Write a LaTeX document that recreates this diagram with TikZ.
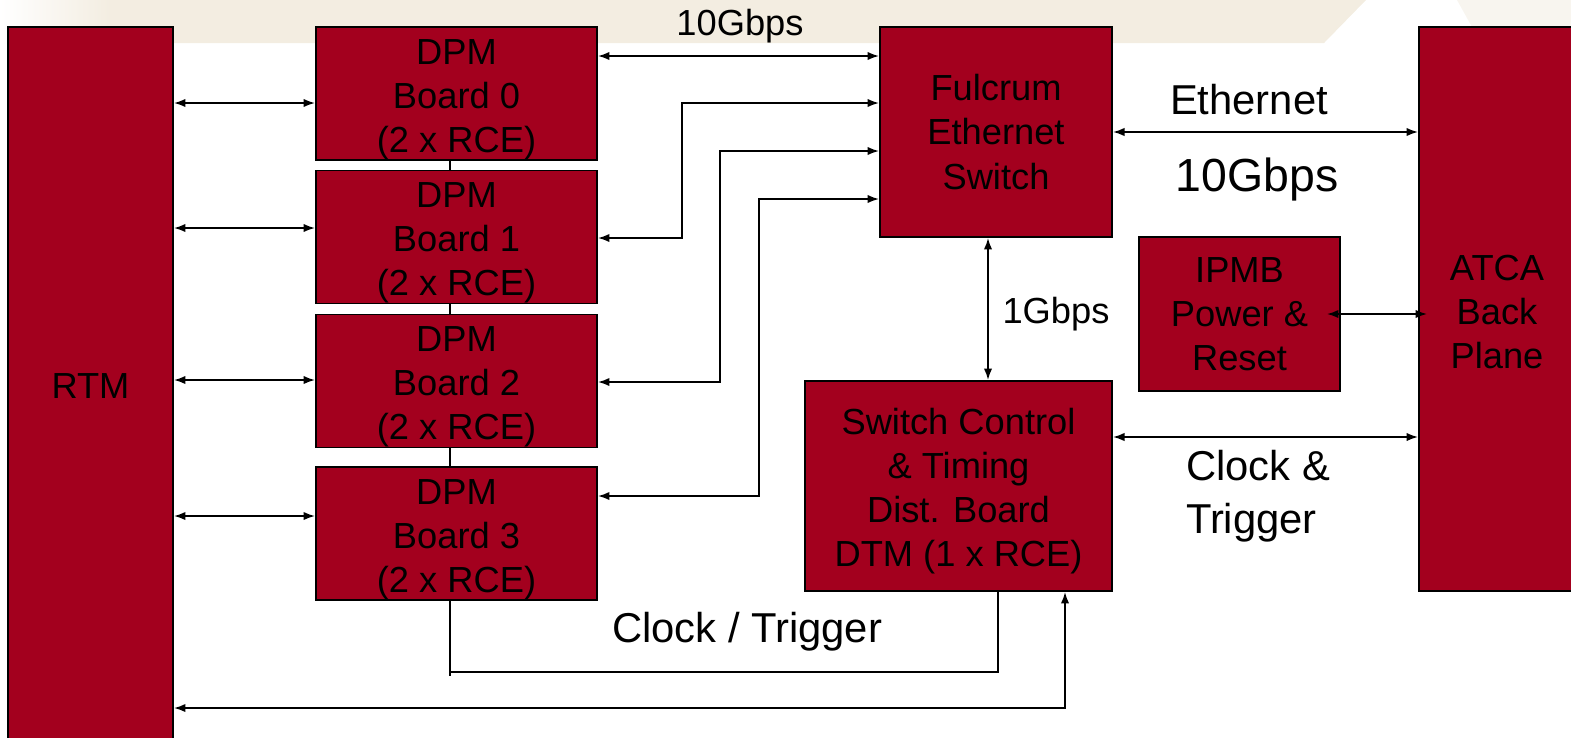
\documentclass[tikz,border=0pt]{standalone}
\usepackage{fontspec}
\setmainfont{Liberation Sans}
\usetikzlibrary{positioning, calc, arrows.meta}
\definecolor{Board}{HTML}{A3001E}
\definecolor{Band}{HTML}{F3EDE1}
\definecolor{BandLight}{HTML}{F8F5EF}
\newcommand{\topgap}[1]{\rule{0pt}{#1}}
\tikzset{
    board/.style={rectangle, draw=black, line width=0.8pt, fill=Board, text=black, align=center, inner sep=0pt, font=\fontsize{17.2}{20.9}\selectfont},
    link/.style={>={Latex[length=5.5pt,width=4pt]}, <->, line width=0.9pt},
    wire/.style={line width=0.9pt},
    lbl/.style={font=\fontsize{19.8}{25.1}\selectfont, align=left},
    smalllbl/.style={font=\fontsize{17.2}{20.9}\selectfont},
}

\begin{document}
\begin{tikzpicture}[x=0.0166667cm, y=-0.0166667cm]
    \useasboundingbox (0,0) rectangle (1571,737);
    % Fondo
    \fill[Band] (0,0) -- (1366,0) -- (1324,43) -- (0,43) -- cycle;
    \shade[left color=white, right color=Band] (0,0) rectangle (110,43);
    \fill[BandLight] (1457,0) -- (1472,27) -- (1571,27) -- (1571,0) -- cycle;

    % Schede
    \node[board, minimum width=2.75cm, minimum height=11.967cm] (rtm) at (90.5,386) {RTM};
    \node[board, minimum width=4.683cm, minimum height=2.217cm] (dpm0) at (456.5,93.5) {\topgap{17.5pt}DPM\\Board 0\\(2 x RCE)};
    \node[board, minimum width=4.683cm, minimum height=2.217cm] (dpm1) at (456.5,237) {\topgap{17.5pt}DPM\\Board 1\\(2 x RCE)};
    \node[board, minimum width=4.683cm, minimum height=2.217cm] (dpm2) at (456.5,381) {\topgap{17.5pt}DPM\\Board 2\\(2 x RCE)};
    \node[board, minimum width=4.683cm, minimum height=2.217cm] (dpm3) at (456.5,533.5) {\topgap{17.5pt}DPM\\Board 3\\(2 x RCE)};
    \node[board, minimum width=3.867cm, minimum height=3.5cm] (fulcrum) at (996,132) {Fulcrum\\Ethernet\\Switch};
    \node[board, minimum width=5.117cm, minimum height=3.5cm] (sctd) at (958.5,486) {\topgap{17pt}Switch Control\\\& Timing\\Dist. Board\\DTM (1 x RCE)};
    \node[board, minimum width=3.35cm, minimum height=2.567cm] (ipmb) at (1239.5,314) {IPMB\\Power \&\\Reset};
    \node[board, minimum width=2.6cm, minimum height=9.4cm] (atca) at (1497,309) {\topgap{15pt}ATCA\\Back\\Plane};

    % RTM <-> DPM
    \foreach \b/\y in {dpm0/103, dpm1/228, dpm2/380, dpm3/516}
        \draw[link] (rtm.east |- 0,\y) -- (\b.west |- 0,\y);

    % DPM <-> Fulcrum
    \draw[link] (dpm0.east |- 0,56) -- (fulcrum.west |- 0,56);
    \foreach \b/\x/\ya/\yb in {dpm1/682/103/238, dpm2/720/151/382, dpm3/759/199/496}
        \draw[link] (fulcrum.west |- 0,\ya) -- (\x,\ya) -- (\x,\yb) -- (\b.east |- 0,\yb);

    % Fulcrum, IPMB, switch control <-> ATCA
    \draw[link] (fulcrum.south -| 988,0) -- (sctd.north -| 988,0);
    \draw[link] (fulcrum.east |- 0,132) -- (atca.west |- 0,132);
    \draw[link] ($(ipmb.east)+(-14,0)$) -- ($(atca.west |- ipmb.east)+(9,0)$);
    \draw[link] (sctd.east |- 0,437) -- (atca.west |- 0,437);

    % Clock / Trigger
    \foreach \a/\b in {dpm0/dpm1, dpm1/dpm2, dpm2/dpm3}
        \draw[wire] (\a.south -| 450,0) -- (\b.north -| 450,0);
    \draw[wire] (dpm3.south -| 450,0) -- (450,676);
    \draw[wire] (450,672) -- (998,672) -- (sctd.south -| 998,0);
    \draw[link] (rtm.east |- 0,708) -| (sctd.south -| 1065,0);

    % Etichette
    \node[smalllbl] (rate0) at (740,26) {10Gbps};
    \node[lbl] (eth) at (1249,100) {Ethernet};
    \node[lbl, font=\fontsize{22}{26}\selectfont] (ethrate) at (1257,179) {10Gbps};
    \node[smalllbl] (rate1) at (1056,314) {1Gbps};
    \node[lbl] (clk) at (1258,496) {Clock \&\\Trigger};
    \node[lbl] (clkdist) at (747,632) {Clock / Trigger};
\end{tikzpicture}
\end{document}
